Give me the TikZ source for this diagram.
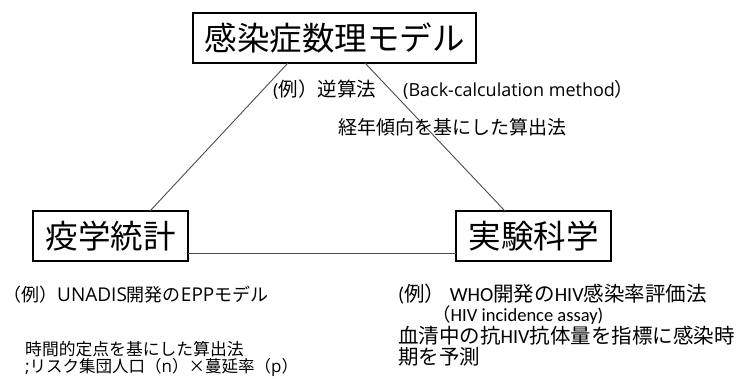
\documentclass[tikz,border=0pt]{standalone}
\usepackage{fontspec}
\setmainfont{Open Sans}
\newfontfamily\carl{Carlito}
\newfontfamily\cjk{Noto Sans CJK JP}
\newcommand{\fs}[1]{\fontsize{#1}{#1}\selectfont}
\tikzset{
  bigbox/.style={draw=black, line width=1.4pt, inner sep=0pt, minimum height=50pt, font=\cjk\fs{32.5}},
  conn/.style={draw=black!70, line width=0.9pt},
  txt/.style={anchor=west, inner sep=0pt},
}
\begin{document}
\begin{tikzpicture}[x=1pt,y=-1pt]
\useasboundingbox (0,0) rectangle (749,378);
\node[bigbox, minimum width=283pt] (top) at (334.5,38) {感染症数理モデル};
\node[bigbox, minimum width=155pt] (epi) at (110.5,236) {疫学統計};
\node[bigbox, minimum width=155pt] (exp) at (533.5,236) {実験科学};
\coordinate (t1) at (288,63);
\coordinate (t2) at (365,63);
\coordinate (e1) at (150,211);
\coordinate (x1) at (505,211);
\coordinate (e2) at (188,253);
\coordinate (x2) at (456,253);
\draw[conn] (t1) -- (e1);
\draw[conn] (t2) -- (x1);
\draw[conn] (e2) -- (x2);
% top labels
\node[txt] (l1) at (273,90) {\fs{18}(\cjk\fs{19.5}例）逆算法};
\node[txt] (l2) at (403,90) {\fs{18}(Back-calculation method{\cjk\fs{19}）}};
\node[txt] (l3) at (338,127) {\cjk\fs{19}経年傾向を基にした算出法};
% bottom left
\node[txt] (b1) at (3,295) {\fs{19}{\cjk\fs{18}（例）}UNADIS{\cjk\fs{18}開発の}EPP{\cjk\fs{18}モデル}};
\node[txt] (b2) at (25,349) {\cjk\fs{16.8}時間的定点を基にした算出法};
\node[txt] (b3) at (25,367) {\fs{17};{\cjk\fs{16.5}リスク集団人口（}n{\cjk\fs{16.5}）×蔓延率（}p{\cjk\fs{16.5}）}};
% bottom right
\node[txt] (r1) at (398,294) {\carl\fs{20}({\cjk\fs{20.5}例）} WHO{\cjk\fs{20.5}開発の}HIV{\cjk\fs{20.5}感染率評価法}};
\node[txt] (r2) at (432,315) {\carl\fs{18.5}{\cjk\fs{18.5}（}HIV incidence assay)};
\node[txt] (r3) at (398,336) {\carl\fs{20}{\cjk\fs{20.5}血清中の抗}HIV{\cjk\fs{20.5}抗体量を指標に感染時}};
\node[txt] (r4) at (398,357) {\cjk\fs{20.5}期を予測};
\end{tikzpicture}
\end{document}
